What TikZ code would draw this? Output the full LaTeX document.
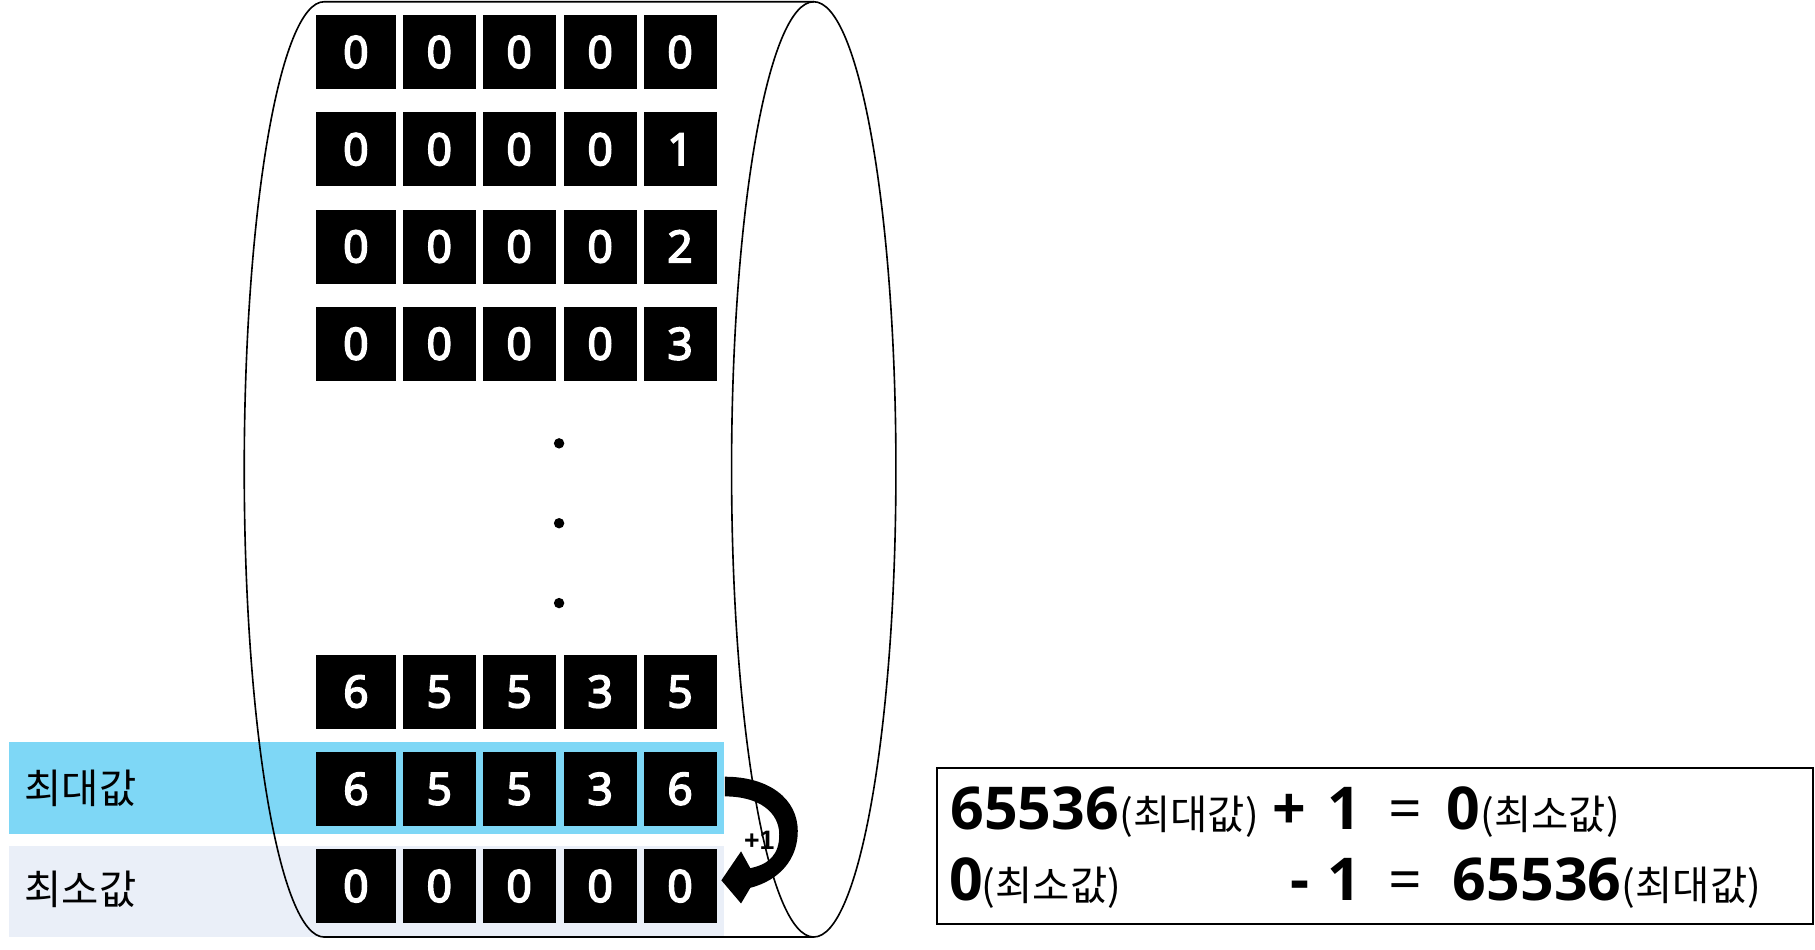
\documentclass[tikz,border=0pt]{standalone}
\usepackage{fontspec}
\setmainfont{Open Sans}
\newfontfamily\kr{Noto Sans CJK KR}
\newfontfamily\digf{Open Sans}
\newfontfamily\arl{Liberation Sans}
\newcommand\semibtxt[1]{\special{pdf:literal direct 1 1 1 RG 2 Tr 1.6 w}#1\special{pdf:literal direct 0 Tr}}
\definecolor{bandblue}{RGB}{126,215,246}
\definecolor{bandgrey}{RGB}{234,239,248}
\begin{document}
\begin{tikzpicture}[x=1pt,y=-1pt,
  cell/.style={fill=black,draw=none,inner sep=0pt,minimum height=64pt,
    text=white,font={\digf\fontsize{38}{40}\selectfont},text height=27.1pt,text depth=0pt},
  wide/.style={minimum width=69pt},
  narrow/.style={minimum width=63pt},
  band/.style={draw=none,inner sep=0pt,minimum width=617.5pt,minimum height=79pt},
  lbl/.style={inner sep=0pt,anchor=base west,font={\kr\fontsize{35}{38}\selectfont}},
  cyl/.style={draw=black,line width=1.4pt},
  eqb/.style={inner sep=0pt,anchor=base west,font={\bfseries\fontsize{51}{54}\selectfont}},
  eqr/.style={inner sep=0pt,anchor=base west,font={\fontsize{51}{54}\selectfont}},
  eqk/.style={inner sep=0pt,anchor=base west,font={\kr\fontsize{35}{38}\selectfont}},
  dot/.style={circle,fill=black,inner sep=0pt,minimum size=9pt}]
\useasboundingbox (0,0) rectangle (1568,820);
% bands
\node[band,fill=bandblue,anchor=north west] (bmax) at (8,641) {};
\node[band,fill=bandgrey,anchor=north west] (bmin) at (8,730.5) {};
% cylinder
\coordinate (ctl) at (280,1.5);
\coordinate (ctr) at (703,1.5);
\coordinate (cbr) at (703,809.5);
\coordinate (cmid) at (703,405.5);
\draw[cyl] (ctr) -- (ctl) arc[start angle=270,end angle=90,x radius=69,y radius=404] -- (cbr);
\draw[cyl] (cmid) ellipse [x radius=71,y radius=404];
% cells
\foreach \r/\yy/\a/\b/\c/\d/\e in {a/45/0/0/0/0/0,b/129/0/0/0/0/1,c/213/0/0/0/0/2,d/297/0/0/0/0/3,e/597.5/6/5/5/3/5,f/681.5/6/5/5/3/6,g/765.5/0/0/0/0/0}{
  \node[cell,wide] (\r1) at (307.5,\yy) {\semibtxt{\a}};
  \node[cell,narrow] (\r2) at (379.5,\yy) {\semibtxt{\b}};
  \node[cell,narrow] (\r3) at (448.5,\yy) {\semibtxt{\c}};
  \node[cell,narrow] (\r4) at (518.5,\yy) {\semibtxt{\d}};
  \node[cell,narrow] (\r5) at (587.5,\yy) {\semibtxt{\e}};
}
% dots
\node[dot] (d1) at (483,383) {};
\node[dot] (d2) at (483,452) {};
\node[dot] (d3) at (483,521) {};
% labels
\node[lbl] (lmax) at (21,694) {최대값};
\node[lbl] (lmin) at (21,781) {최소값};
% curved arrow from f5 back to g5
\fill[black,shift={(f5.east)}] (7,-10.5) .. controls (45,-10.5) and (70,8.5) .. (70,36.5)
  .. controls (70,61) and (54,79) .. (29,85.5) -- (21,99) -- (4,79) -- (21,54) -- (29,68.5)
  .. controls (46,65) and (54,56) .. (54,39.5) .. controls (54,20.5) and (37,6.5) .. (7,6.5) -- cycle;
\node[inner sep=0pt,font={\arl\bfseries\fontsize{23}{25}\selectfont}] (plus1) at (656,726) {+1};
% equation box
\node[draw=black,line width=2pt,inner sep=0pt,minimum width=757pt,minimum height=135pt,anchor=north west] (eqbox) at (808.5,662.5) {};
\node[eqb] (e1a) at (821,717) {65536};
\node[eqk] (e1b) at (967,717) {(최대값)};
\node[eqb] (e1c) at (1099,717) {+};
\node[eqb] (e1d) at (1147,717) {1};
\node[eqr] (e1e) at (1199,717) {=};
\node[eqb] (e1f) at (1249,717) {0};
\node[eqk] (e1g) at (1279,717) {(최소값)};
\node[eqb] (e2a) at (820,778) {0};
\node[eqk] (e2b) at (848,778) {(최소값)};
\node[eqb] (e2c) at (1115,778) {-};
\node[eqb] (e2d) at (1147,778) {1};
\node[eqr] (e2e) at (1199,778) {=};
\node[eqb] (e2f) at (1255,778) {65536};
\node[eqk] (e2g) at (1401,778) {(최대값)};
\end{tikzpicture}
\end{document}
